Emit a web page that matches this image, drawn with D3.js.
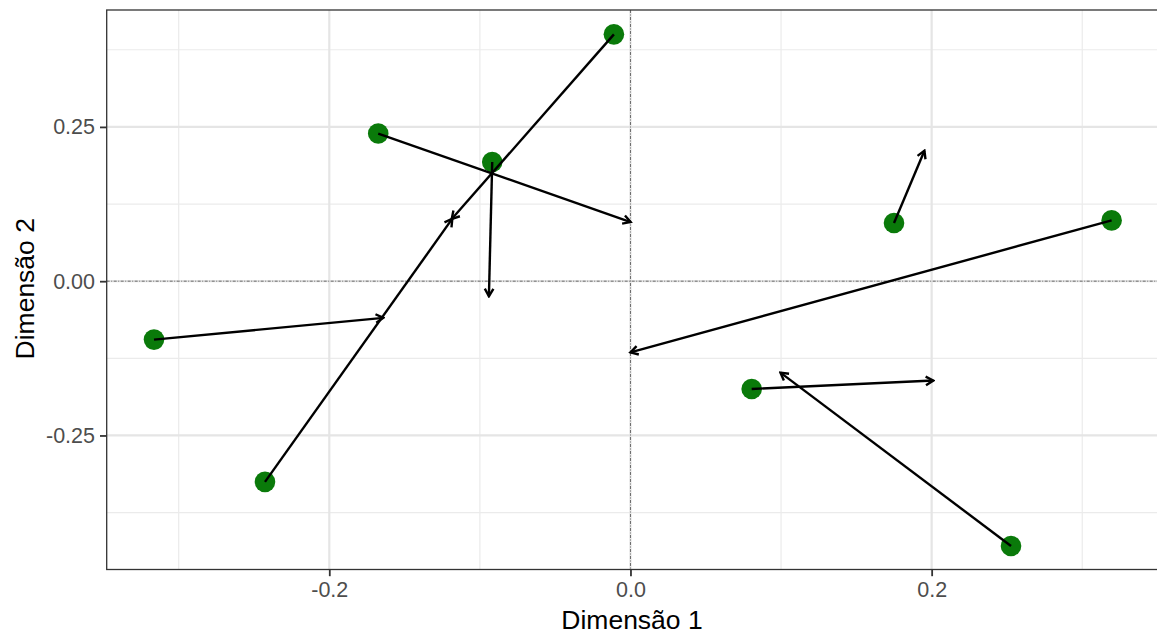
<!DOCTYPE html>
<html>
<head>
<meta charset="utf-8">
<script src="https://cdn.jsdelivr.net/npm/d3@7"></script>
<style>
  html, body { margin: 0; padding: 0; background: #fff; }
  svg { display: block; }
  text { font-family: "Liberation Sans", Arial, Helvetica, sans-serif; }
</style>
</head>
<body>
<svg id="chart" width="1157" height="635"></svg>
<script>
// ---- data ----
const startX = [-0.3164, -0.2427, -0.1675, -0.0918, -0.0110, 0.1750, 0.3195, 0.0805, 0.2527];
const startY = [-0.0947, -0.3252, 0.2393, 0.1932, 0.4000, 0.0942, 0.0985, -0.1747, -0.4291];
const endX   = [-0.1641, -0.1183, 0.0001, -0.0940, -0.1187, 0.1952, 0.0000, 0.2011, 0.0996];
const endY   = [-0.0594, 0.1013, 0.0958, -0.0244, 0.1007, 0.2115, -0.1153, -0.1610, -0.1482];
const xMajor = [-0.2, 0.0, 0.2];
const xMajorLabels = ["-0.2", "0.0", "0.2"];
const xMinor = [-0.3, -0.1, 0.1, 0.3];
const yMajor = [0.25, 0.0, -0.25];
const yMajorLabels = ["0.25", "0.00", "-0.25"];
const yMinor = [0.375, 0.125, -0.125, -0.375];
const xTitle = "Dimensão 1";
const yTitle = "Dimensão 2";

// ---- layout ----
const panel = { left: 106.7, top: 10, right: 1161, bottom: 569.5 };
const x = d3.scaleLinear().domain([-0.34781, 0.35230]).range([panel.left, panel.right]);
const y = d3.scaleLinear().domain([-0.46721, 0.43945]).range([panel.bottom, panel.top]);

const svg = d3.select("#chart");

const defs = svg.append("defs");
defs.append("clipPath").attr("id", "clip")
  .append("rect")
  .attr("x", panel.left).attr("y", panel.top)
  .attr("width", panel.right - panel.left).attr("height", panel.bottom - panel.top);

defs.append("marker")
  .attr("id", "arrow")
  .attr("markerUnits", "userSpaceOnUse")
  .attr("viewBox", "-10 -6 12 12")
  .attr("refX", 0).attr("refY", 0)
  .attr("markerWidth", 12).attr("markerHeight", 12)
  .attr("orient", "auto")
  .append("path")
  .attr("d", "M-7.5,-4.3L0,0L-7.5,4.3")
  .attr("fill", "none")
  .attr("stroke", "#000")
  .attr("stroke-width", 2.4)
  .attr("stroke-linejoin", "miter");

const g = svg.append("g").attr("clip-path", "url(#clip)");

g.append("rect")
  .attr("x", panel.left).attr("y", panel.top)
  .attr("width", panel.right - panel.left).attr("height", panel.bottom - panel.top)
  .attr("fill", "#fff");

// minor grid
g.selectAll(".gxm").data(xMinor).enter().append("line")
  .attr("x1", d => x(d)).attr("x2", d => x(d))
  .attr("y1", panel.top).attr("y2", panel.bottom)
  .attr("stroke", "#ebebeb").attr("stroke-width", 1.2);
g.selectAll(".gym").data(yMinor).enter().append("line")
  .attr("y1", d => y(d)).attr("y2", d => y(d))
  .attr("x1", panel.left).attr("x2", panel.right)
  .attr("stroke", "#ebebeb").attr("stroke-width", 1.2);
// major grid
g.selectAll(".gx").data(xMajor).enter().append("line")
  .attr("x1", d => x(d)).attr("x2", d => x(d))
  .attr("y1", panel.top).attr("y2", panel.bottom)
  .attr("stroke", "#e5e5e5").attr("stroke-width", 2.2);
g.selectAll(".gy").data(yMajor).enter().append("line")
  .attr("y1", d => y(d)).attr("y2", d => y(d))
  .attr("x1", panel.left).attr("x2", panel.right)
  .attr("stroke", "#e5e5e5").attr("stroke-width", 2.2);

// reference lines at 0
g.append("line")
  .attr("x1", x(0)).attr("x2", x(0)).attr("y1", panel.top).attr("y2", panel.bottom)
  .attr("stroke", "#6a6a6a").attr("stroke-width", 1).attr("stroke-dasharray", "3,1.5,1,1.5");
g.append("line")
  .attr("y1", y(0)).attr("y2", y(0)).attr("x1", panel.left).attr("x2", panel.right)
  .attr("stroke", "#6a6a6a").attr("stroke-width", 1).attr("stroke-dasharray", "3,1.5,1,1.5");

// points
const idx = d3.range(startX.length);
g.selectAll(".pt").data(idx).enter().append("circle")
  .attr("cx", i => x(startX[i])).attr("cy", i => y(startY[i]))
  .attr("r", 10.3)
  .attr("fill", "#0a7a0a");

// arrows
g.selectAll(".arr").data(idx).enter().append("line")
  .attr("x1", i => x(startX[i])).attr("y1", i => y(startY[i]))
  .attr("x2", i => x(endX[i])).attr("y2", i => y(endY[i]))
  .attr("stroke", "#000").attr("stroke-width", 2.4)
  .attr("marker-end", "url(#arrow)");

// panel border
svg.append("rect")
  .attr("x", panel.left).attr("y", panel.top)
  .attr("width", panel.right - panel.left).attr("height", panel.bottom - panel.top)
  .attr("fill", "none").attr("stroke", "#333").attr("stroke-width", 1.3);

// axes
const xAxis = d3.axisBottom(x).tickValues(xMajor).tickSize(6.7).tickPadding(6)
  .tickFormat((d, i) => xMajorLabels[i]);
const yAxis = d3.axisLeft(y).tickValues(yMajor).tickSize(6.7).tickPadding(5)
  .tickFormat((d, i) => yMajorLabels[i]);

const gx = svg.append("g").attr("transform", `translate(0,${panel.bottom})`).call(xAxis);
const gy = svg.append("g").attr("transform", `translate(${panel.left},0)`).call(yAxis);
[gx, gy].forEach(a => {
  a.select(".domain").remove();
  a.selectAll(".tick line").attr("stroke", "#333").attr("stroke-width", 1.8);
  a.selectAll(".tick text").attr("fill", "#4d4d4d").attr("font-size", "21.5px")
    .attr("font-family", "'Liberation Sans', Arial, Helvetica, sans-serif");
});

// titles
svg.append("text")
  .attr("x", 632).attr("y", 629)
  .attr("text-anchor", "middle").attr("font-size", "26.5px").attr("fill", "#000")
  .text(xTitle);
svg.append("text")
  .attr("transform", `translate(33.5,${(panel.top + panel.bottom) / 2 - 1}) rotate(-90)`)
  .attr("text-anchor", "middle").attr("font-size", "26.5px").attr("fill", "#000")
  .text(yTitle);
</script>
</body>
</html>
